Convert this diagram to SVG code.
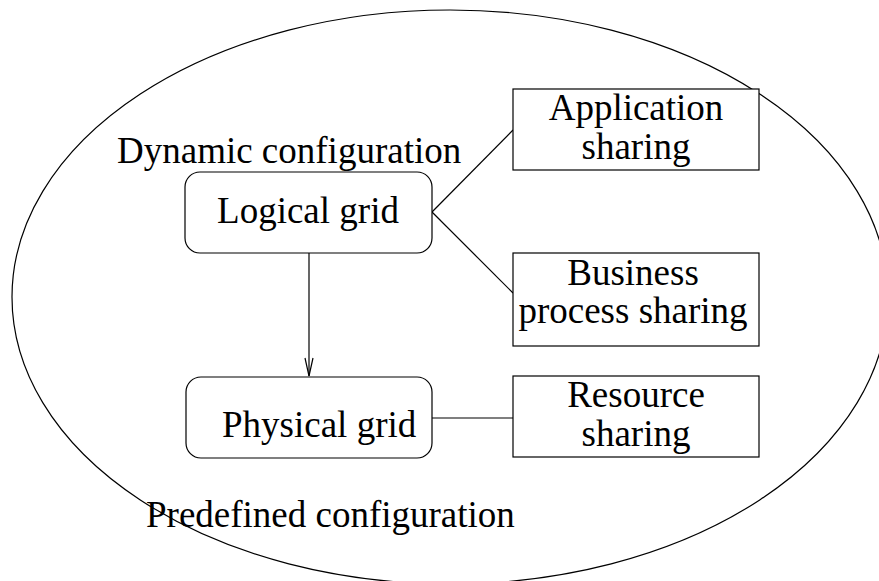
<svg xmlns="http://www.w3.org/2000/svg" width="879" height="581" viewBox="0 0 879 581">
<defs>
<style>
text{font-family:'Liberation Serif','Times New Roman',serif;font-size:37px;fill:#000}
.m{text-anchor:middle}
.s{fill:#fff;stroke:#000;stroke-width:1.2}
.c{fill:none;stroke:#000;stroke-width:1.2}
</style>
<marker id="v" markerWidth="22" markerHeight="12" refX="19" refY="5" orient="auto" markerUnits="userSpaceOnUse" viewBox="0 0 22 10">
<path d="M1,1 L19,5 L1,9" fill="none" stroke="#000" stroke-width="1.2"/>
</marker>
</defs>
<rect width="879" height="581" fill="#fff"/>
<ellipse cx="450" cy="297" rx="438" ry="287" fill="none" stroke="#000" stroke-width="1.2"/>
<g id="connectors">
<line class="c" x1="309" y1="253" x2="309" y2="376" marker-end="url(#v)"/>
<line class="c" x1="432" y1="212" x2="513" y2="130"/>
<line class="c" x1="432" y1="212" x2="513" y2="293"/>
<line class="c" x1="432" y1="418" x2="513" y2="418"/>
</g>
<g id="dynamic-label"><text x="117" y="163">Dynamic configuration</text></g>
<g id="predefined-label"><text x="146" y="527">Predefined configuration</text></g>
<g id="logical-grid">
<rect class="s" x="185" y="172" width="247" height="81" rx="15"/>
<text class="m" x="308" y="223">Logical grid</text>
</g>
<g id="physical-grid">
<rect class="s" x="186" y="377" width="246" height="81" rx="15"/>
<text x="222" y="437">Physical grid</text>
</g>
<g id="application-sharing">
<rect class="s" x="513" y="89" width="246" height="81"/>
<text class="m" x="636" y="120">Application</text>
<text class="m" x="636" y="159">sharing</text>
</g>
<g id="business-process-sharing">
<rect class="s" x="513" y="253" width="246" height="93"/>
<text class="m" x="633" y="285">Business</text>
<text class="m" x="633" y="323">process sharing</text>
</g>
<g id="resource-sharing">
<rect class="s" x="513" y="376" width="246" height="81"/>
<text class="m" x="636" y="407">Resource</text>
<text class="m" x="636" y="446">sharing</text>
</g>
</svg>
